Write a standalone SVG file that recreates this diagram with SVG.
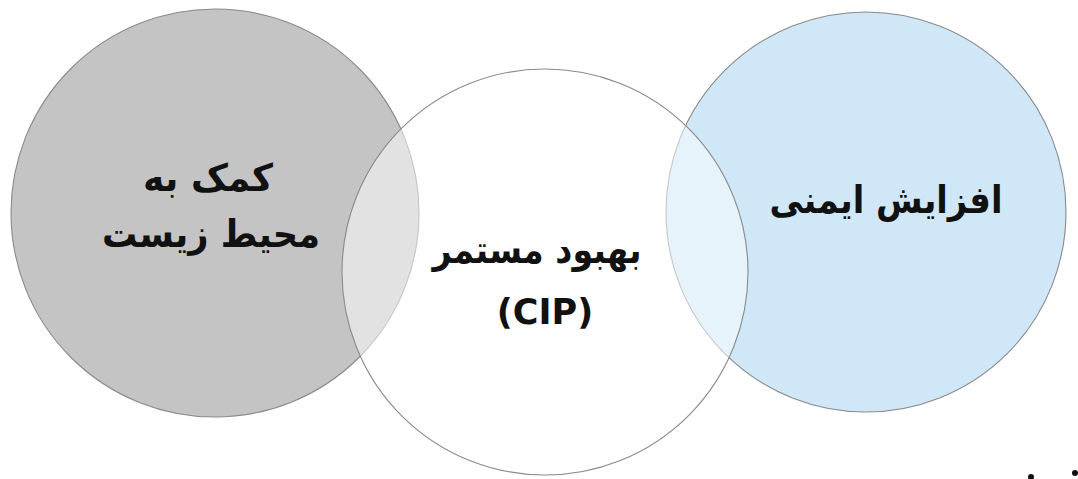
<svg xmlns="http://www.w3.org/2000/svg" width="1078" height="479" viewBox="0 0 1078 479">
<style>
.c{stroke:#8a8a8a;stroke-width:1.1}
.t{font-family:"DejaVu Sans","Noto Sans",sans-serif;font-weight:bold;font-size:38px;fill:#111;text-anchor:middle}
.l{font-size:35px}
</style>
<rect width="1078" height="479" fill="#ffffff"/>
<g id="env">
<circle class="c" cx="215" cy="213" r="204" fill="#c4c4c4"/>
</g>
<g id="safety">
<circle class="c" cx="866" cy="212" r="200" fill="#cfe7f7"/>
</g>
<g id="cip">
<circle class="c" cx="545" cy="272" r="203" fill="#ffffff" fill-opacity="0.5"/>
</g>
<g id="labels">
<text class="t" x="208" y="191" direction="rtl" textLength="130" lengthAdjust="spacingAndGlyphs">کمک به</text>
<text class="t" x="211" y="247" direction="rtl" textLength="218" lengthAdjust="spacingAndGlyphs">محیط زیست</text>
<text class="t" x="537" y="263" direction="rtl" textLength="209" lengthAdjust="spacingAndGlyphs">بهبود مستمر</text>
<text class="t l" x="545" y="324">(CIP)</text>
<text class="t" x="886" y="213" direction="rtl" textLength="233" lengthAdjust="spacingAndGlyphs">افزایش ایمنی</text>
</g>
<g id="marks" fill="#111">
<circle cx="1031" cy="477" r="3"/>
<circle cx="1075" cy="473" r="3"/>
</g>
<g id="connectors"></g>
</svg>
